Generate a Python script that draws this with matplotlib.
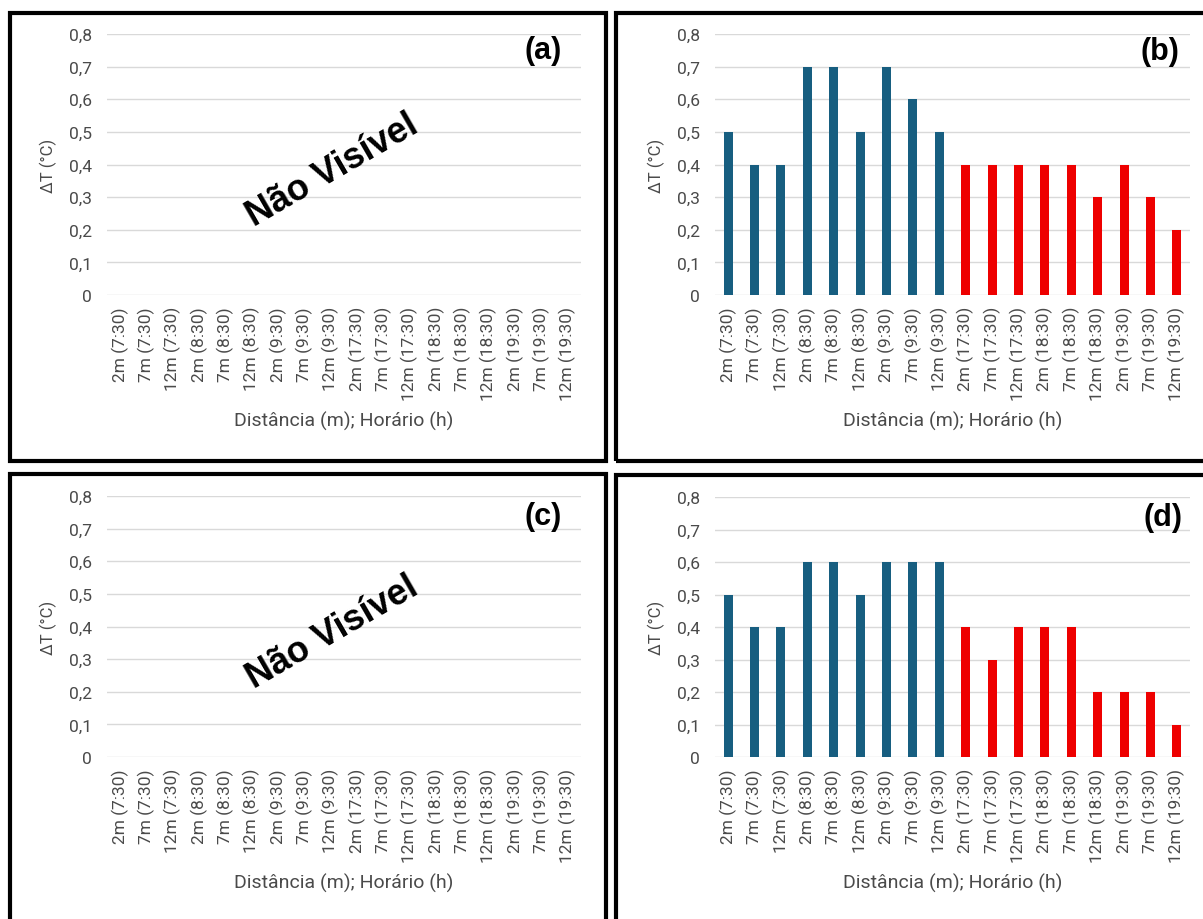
import matplotlib
matplotlib.use('Agg')
import matplotlib.pyplot as plt
from matplotlib.patches import Rectangle

plt.rcParams['font.family'] = ['Roboto', 'DejaVu Sans']

categories = ['2m (7:30)', '7m (7:30)', '12m (7:30)', '2m (8:30)', '7m (8:30)', '12m (8:30)',
              '2m (9:30)', '7m (9:30)', '12m (9:30)', '2m (17:30)', '7m (17:30)', '12m (17:30)',
              '2m (18:30)', '7m (18:30)', '12m (18:30)', '2m (19:30)', '7m (19:30)', '12m (19:30)']
vals_b = [0.5, 0.4, 0.4, 0.7, 0.7, 0.5, 0.7, 0.6, 0.5, 0.4, 0.4, 0.4, 0.4, 0.4, 0.3, 0.4, 0.3, 0.2]
vals_d = [0.5, 0.4, 0.4, 0.6, 0.6, 0.5, 0.6, 0.6, 0.6, 0.4, 0.3, 0.4, 0.4, 0.4, 0.2, 0.2, 0.2, 0.1]
yticks = [0, 0.1, 0.2, 0.3, 0.4, 0.5, 0.6, 0.7, 0.8]
ytick_labels = ['0', '0,1', '0,2', '0,3', '0,4', '0,5', '0,6', '0,7', '0,8']
panel_tags = ['(a)', '(b)', '(c)', '(d)']

BLUE = '#175E80'
RED = '#EE0000'
TXT = '#4A4A4A'
colors = [BLUE] * 9 + [RED] * 9

W, H = 1203, 920
fig = plt.figure(figsize=(W / 100, H / 100), dpi=100)

# panel frames (pixel boxes: x0, y0_top, x1, y1_bottom)
frames = [(10, 14, 606, 462), (616, 14, 1215, 462), (10, 475, 606, 935), (616, 476, 1215, 935)]
for x0, y0, x1, y1 in frames:
    fig.patches.append(Rectangle((x0 / W, 1 - y1 / H), (x1 - x0) / W, (y1 - y0) / H,
                                 transform=fig.transFigure, fill=False, ec='black', lw=3))

# axes boxes in pixels: left, right, top(0.8), bottom(0)
boxes = [(107, 581, 35, 296), (715, 1190, 35, 296), (107, 581, 497, 758), (715, 1190, 498, 758)]
tag_pos = [(0.92, 0.94), (0.937, 0.935), (0.92, 0.923), (0.943, 0.923)]
data = [None, vals_b, None, vals_d]

for i, (l, r, t, b) in enumerate(boxes):
    ax = fig.add_axes([l / W, 1 - b / H, (r - l) / W, (b - t) / H])
    x = list(range(len(categories)))
    if data[i] is not None:
        ax.bar(x, data[i], width=0.34, color=colors, zorder=3)
    ax.set_xlim(-0.5, len(categories) - 0.5)
    ax.set_ylim(0, 0.8)
    ax.set_yticks(yticks)
    ax.set_yticklabels(ytick_labels)
    ax.set_xticks(x)
    ax.set_xticklabels(categories, rotation=90)
    ax.tick_params(length=0, labelsize=12.5, labelcolor=TXT)
    ax.tick_params(axis='y', pad=11)
    ax.tick_params(axis='x', pad=8)
    for s in ax.spines.values():
        s.set_visible(False)
    ax.grid(axis='y', color='#D9D9D9', lw=1, zorder=0)
    ax.set_axisbelow(True)
    ax.set_ylabel('ΔT (°C)', fontsize=12, color=TXT)
    ax.yaxis.set_label_coords(-0.106, 0.5)
    ax.set_xlabel('Distância (m); Horário (h)', fontsize=14, color=TXT)
    ax.xaxis.set_label_coords(0.5, -0.445)
    ax.text(tag_pos[i][0], tag_pos[i][1], panel_tags[i], transform=ax.transAxes,
            ha='center', va='center', fontsize=22, fontweight='bold', color='black',
            family=['Liberation Sans', 'DejaVu Sans'])
    if data[i] is None:
        ax.text(0.475, 0.48, 'Não Visível', transform=ax.transAxes, rotation=30,
                ha='center', va='center', fontsize=26, fontweight='bold', color='black',
                family=['Liberation Sans', 'DejaVu Sans'])

fig.savefig('out.png', dpi=100)
